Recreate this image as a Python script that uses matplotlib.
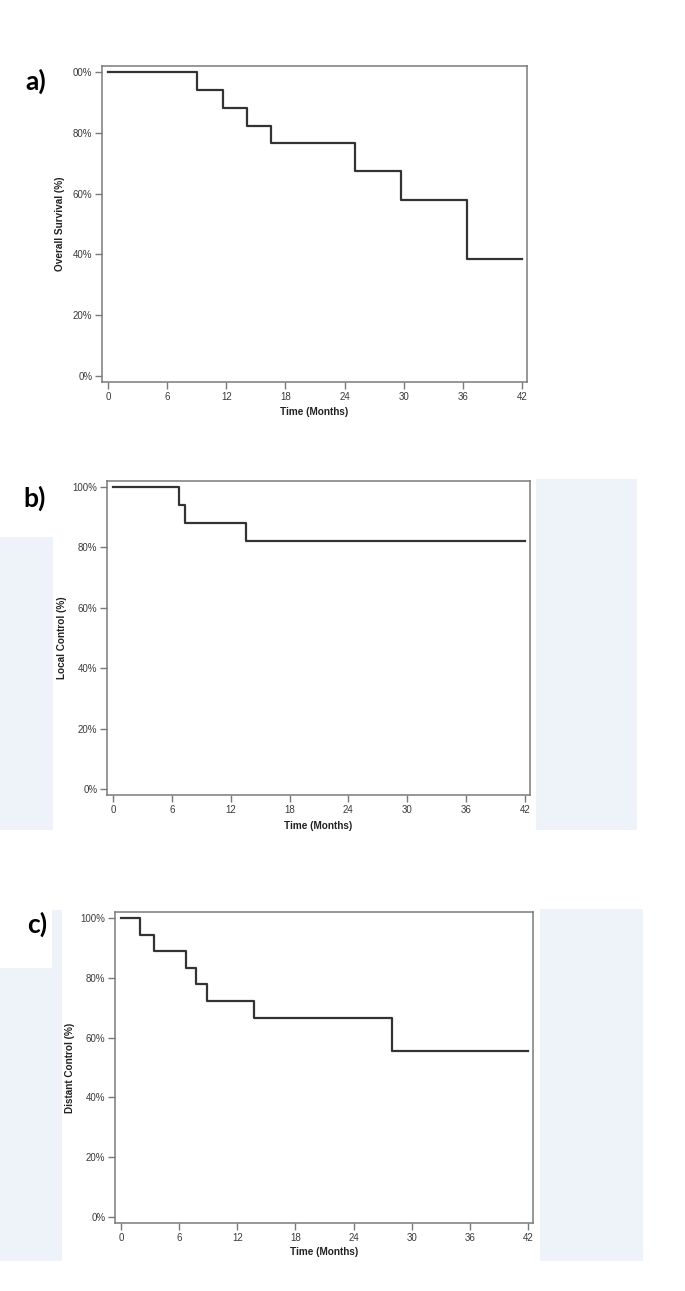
import matplotlib
matplotlib.use("Agg")
import matplotlib.pyplot as plt
from matplotlib.patches import Rectangle

# Kaplan-Meier style step data (months, percent)
os_times = [0, 9.0, 11.7, 14.1, 16.5, 25.1, 29.7, 36.4, 42]
os_vals = [100, 94.1, 88.2, 82.4, 76.5, 67.6, 58.0, 38.6, 38.6]

lc_times = [0, 6.7, 7.3, 13.6, 42]
lc_vals = [100, 94.1, 88.2, 82.1, 82.1]

dc_times = [0, 2.0, 3.45, 6.75, 7.8, 8.85, 13.75, 28.0, 42]
dc_vals = [100, 94.4, 88.9, 83.3, 77.8, 72.2, 66.7, 55.6, 55.6]

x_ticks = [0, 6, 12, 18, 24, 30, 36, 42]
y_ticks = [0, 20, 40, 60, 80, 100]
y_labels_a = ["0%", "20%", "40%", "60%", "80%", "00%"]
y_labels = ["0%", "20%", "40%", "60%", "80%", "100%"]

W, H = 685, 1291
fig = plt.figure(figsize=(W / 100, H / 100), dpi=100)
fig.patch.set_facecolor("white")

BLUE = "#eef3fa"
SPINE = "#7a7a7a"
TXT = "#3a3a3a"


def px_rect(x0, y0, x1, y1, color):
    fig.patches.append(Rectangle((x0 / W, 1 - y1 / H), (x1 - x0) / W, (y1 - y0) / H,
                                 transform=fig.transFigure, facecolor=color,
                                 edgecolor="none", zorder=0))


# light blue background blocks
px_rect(0, 537, 53, 830, BLUE)
px_rect(536, 479, 637, 830, BLUE)
px_rect(0, 910, 62, 1261, BLUE)
px_rect(0, 905, 52, 968, "white")
px_rect(540, 909, 643, 1261, BLUE)


def panel(left, top, right, bottom, times, vals, ylabs, ylabel, ylab_x, xlab_y, tag, tag_xy):
    ax = fig.add_axes([left / W, 1 - bottom / H, (right - left) / W, (bottom - top) / H])
    ax.step(times, vals, where="post", color="#333333", lw=1.6)
    ax.set_xlim(-0.6, 42.5)
    ax.set_ylim(-2, 102)
    ax.set_xticks(x_ticks)
    ax.set_yticks(y_ticks)
    ax.set_yticklabels(ylabs)
    ax.tick_params(length=5, width=1, color=SPINE, labelsize=7, labelcolor=TXT, pad=2,
                   direction="out")
    for s in ax.spines.values():
        s.set_color(SPINE)
        s.set_linewidth(1.1)
    for lab in ax.get_xticklabels() + ax.get_yticklabels():
        lab.set_family("Liberation Sans")
    cx = (left + right) / 2
    cy = (top + bottom) / 2
    fig.text(cx / W, 1 - xlab_y / H, "Time (Months)", ha="center", va="center",
             fontsize=7.2, fontweight="bold", family="Liberation Sans", color="#222222")
    fig.text(ylab_x / W, 1 - cy / H, ylabel, ha="center", va="center", rotation=90,
             fontsize=7.2, fontweight="bold", family="Liberation Sans", color="#222222")
    fig.text(tag_xy[0] / W, 1 - tag_xy[1] / H, tag, ha="center", va="center",
             fontsize=19, fontweight="bold", family="Lato", color="black")
    return ax


panel(102, 66, 527, 382, os_times, os_vals, y_labels_a, "Overall Survival (%)", 60, 412,
      "a)", (36, 81))
panel(107, 481, 530, 795, lc_times, lc_vals, y_labels, "Local Control (%)", 62, 826,
      "b)", (35, 498))
panel(115, 912, 533, 1223, dc_times, dc_vals, y_labels, "Distant Control (%)", 70, 1252,
      "c)", (37, 924))

fig.savefig("out.png", dpi=100)
